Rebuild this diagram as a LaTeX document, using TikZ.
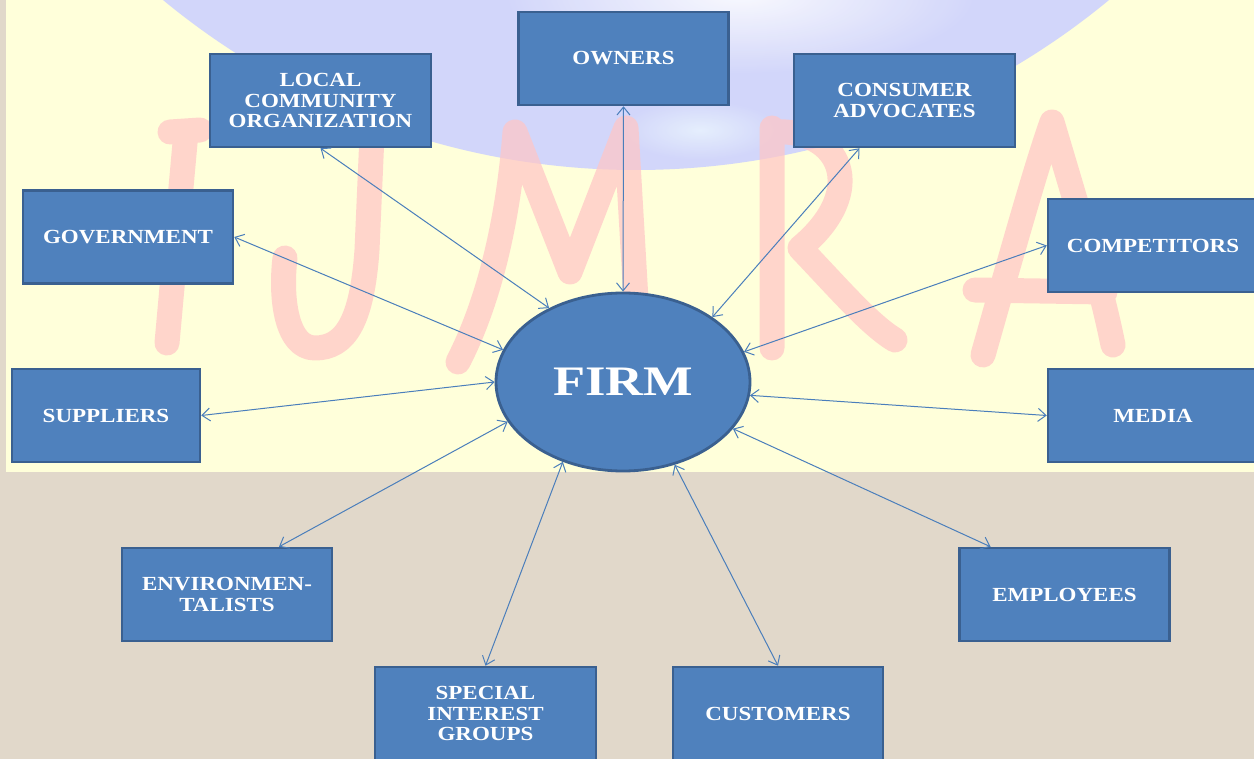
\documentclass[tikz,border=0pt]{standalone}
\usepackage{fontspec}
\setmainfont{Liberation Serif}
\newfontfamily\boxfont[FakeStretch=1.15]{Liberation Serif}
\newfontfamily\firmfont[FakeStretch=1.25]{Liberation Serif}
\usetikzlibrary{arrows.meta,shapes.geometric,calc}
\definecolor{boxfill}{HTML}{4F81BD}
\definecolor{boxline}{HTML}{3A6090}
\definecolor{arrowc}{HTML}{4A7EBB}
\definecolor{paper}{HTML}{E1D8CA}
\definecolor{cream}{HTML}{FFFFDA}
\definecolor{lav}{HTML}{D2D6FA}
\definecolor{wmark}{HTML}{FFC6C6}
\begin{document}
\begin{tikzpicture}[x=0.5pt,y=-0.5pt,
  stake/.style={draw=boxline, line width=1.25pt, fill=boxfill, minimum width=105pt, minimum height=46.5pt,
    text=white, font=\boxfont\bfseries\fontsize{10}{10.3}\selectfont, align=center, inner sep=0pt},
  wide/.style={minimum width=110.5pt},
  link/.style={draw=arrowc, line width=0.5pt,
    {Straight Barb[length=4pt,width=6.5pt]}-{Straight Barb[length=4pt,width=6.5pt]}},
  brush/.style={draw=wmark, opacity=0.72, line width=12.5pt, line cap=round, line join=round}]
\useasboundingbox (0,0) rectangle (1254,759);
\clip (0,0) rectangle (1254,759);
% background
\fill[paper] (0,0) rectangle (1254,759);
\fill[cream] (6,0) rectangle (1254,472);
\begin{scope}
  \clip (6,0) rectangle (1254,472);
  \fill[lav] (636,-573) circle [radius=743];
  \begin{scope}
    \clip (636,-573) circle [radius=743];
    \shade[inner color=white, outer color=lav, opacity=0.85] (740,-5) ellipse [x radius=240, y radius=80];
    \shade[inner color=white!75!cyan!20, outer color=lav, opacity=0.6] (700,130) ellipse [x radius=80, y radius=30];
  \end{scope}
  % watermark strokes (I J M R A)
  \draw[brush] (170,132) -- (200,130) (186,132) -- (167,343);
  \draw[brush] (372,135) -- (367,250) .. controls (362,322) and (345,348) .. (315,348)
               .. controls (287,348) and (280,300) .. (285,258);
  \draw[brush] (458,362) .. controls (495,290) and (510,200) .. (515,132)
               -- (570,272) -- (626,128) -- (636,300);
  \draw[brush] (772,128) -- (772,348) (774,132) .. controls (840,128) and (870,190) .. (800,248)
               .. controls (840,290) and (870,325) .. (895,340);
  \draw[brush] (983,355) .. controls (1010,260) and (1035,170) .. (1052,122)
               .. controls (1075,200) and (1100,280) .. (1113,345)
               (975,290) -- (1105,292);
\end{scope}
% nodes
\node[ellipse, draw=boxline, line width=1.4pt, fill=boxfill, minimum width=127pt, minimum height=89pt,
  inner sep=0pt, text=white, font=\firmfont\bfseries\fontsize{21}{21}\selectfont] (firm) at (623,382) {FIRM};
\node[stake] (owners) at (623.5,58.5) {OWNERS};
\node[stake, wide] (local) at (320.5,100.5) {LOCAL\\COMMUNITY\\ORGANIZATION};
\node[stake, wide] (consumer) at (904.5,100.5) {CONSUMER\\ADVOCATES};
\node[stake] (government) at (128,237) {GOVERNMENT};
\node[stake] (competitors) at (1153,245.5) {COMPETITORS};
\node[stake, minimum width=94pt] (suppliers) at (106,415.5) {SUPPLIERS};
\node[stake] (media) at (1153,415.5) {MEDIA};
\node[stake] (environ) at (227,594.5) {ENVIRONMEN-\\TALISTS};
\node[stake] (employees) at (1064.5,594.5) {EMPLOYEES};
\node[stake, wide] (special) at (485.5,713.5) {SPECIAL\\INTEREST\\GROUPS};
\node[stake] (customers) at (778,713.5) {CUSTOMERS};
% connectors
\draw[link] (owners.south) -- (firm.90);
\draw[link] (local.south) -- (firm.135);
\draw[link] ($(consumer.south)+(-45,0)$) -- (firm.36);
\draw[link] (government.east) -- (firm.165);
\draw[link] (competitors.west) -- (firm.14);
\draw[link] (suppliers.east) -- (firm.180);
\draw[link] (media.west) -- (firm.-6);
\draw[link] ($(environ.north)+(52,0)$) -- (firm.199);
\draw[link] (special.north) -- (firm.233);
\draw[link] (customers.north) -- (firm.-58);
\draw[link] ($(employees.north)+(-74,0)$) -- (firm.-23);
\end{tikzpicture}
\end{document}
